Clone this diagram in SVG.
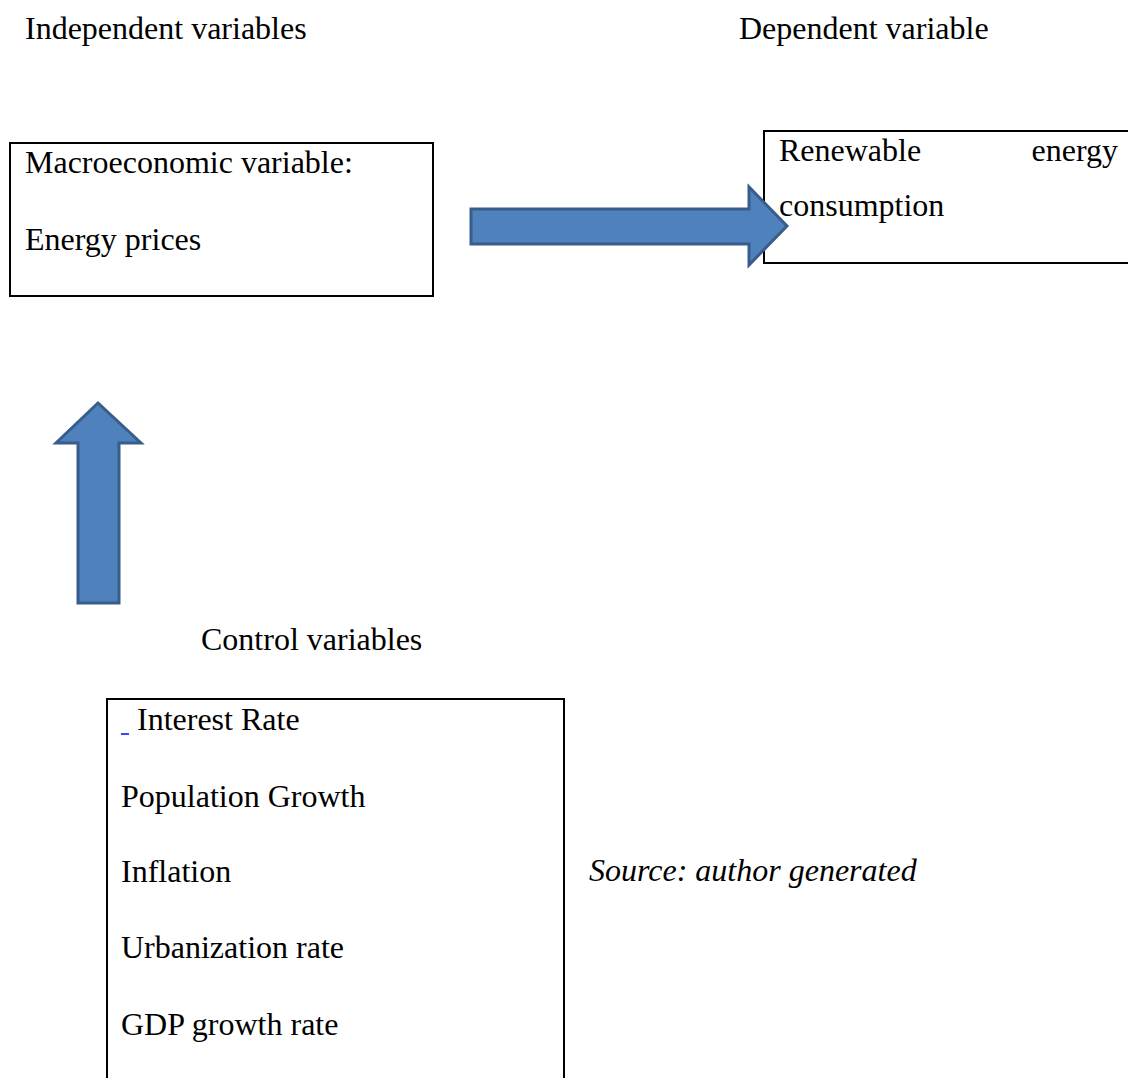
<svg xmlns="http://www.w3.org/2000/svg" width="1128" height="1078" viewBox="0 0 1128 1078">
<style>
text{font-family:"Liberation Serif","Times New Roman",serif;font-size:32px;fill:#000}
.box{fill:#fff;stroke:#000;stroke-width:2}
.arrow{fill:#4F81BD;stroke:#385D8A;stroke-width:3;stroke-linejoin:miter}
</style>
<rect width="1128" height="1078" fill="#fff"/>
<text x="25" y="39">Independent variables</text>
<text x="739" y="39">Dependent variable</text>
<g id="node-macro">
<rect class="box" x="10" y="143" width="423" height="153"/>
<text x="25" y="173">Macroeconomic variable:</text>
<text x="25" y="250">Energy prices</text>
</g>
<g id="node-renewable">
<rect class="box" x="764" y="131" width="380" height="132"/>
<text x="779" y="161">Renewable</text>
<text x="1118" y="161" text-anchor="end">energy</text>
<text x="779" y="216">consumption</text>
</g>
<g id="node-control">
<text x="201" y="650">Control variables</text>
<rect class="box" x="107" y="699" width="457" height="400"/>
<line x1="121" y1="734" x2="129" y2="734" stroke="#0000ff" stroke-width="1.5"/>
<text x="137" y="730">Interest Rate</text>
<text x="121" y="807">Population Growth</text>
<text x="121" y="882">Inflation</text>
<text x="121" y="958">Urbanization rate</text>
<text x="121" y="1035">GDP growth rate</text>
</g>
<text x="589" y="881" font-style="italic">Source: author generated</text>
<g id="connectors">
<path class="arrow" d="M471,209 L749,209 L749,187 L787,226 L749,265 L749,244 L471,244 Z"/>
<path class="arrow" d="M78,603 L78,443 L56,443 L98,403 L141,443 L119,443 L119,603 Z"/>
</g>
</svg>
